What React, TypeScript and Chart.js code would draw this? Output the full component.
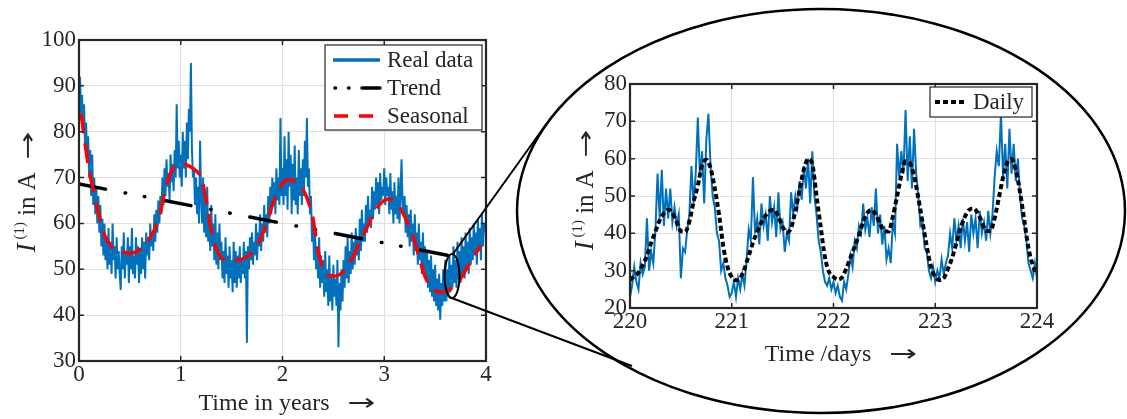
import React, { useEffect, useRef } from "react";
import { Chart, registerables } from "chart.js";
Chart.register(...registerables);

const SERIF = '"Liberation Serif", "Times New Roman", serif';
const ARROWFONT = '"DejaVu Sans", sans-serif';
const INK = "#262626";
const GRID = "#e0e0e0";
const BLUE = "#0072BD";
const RED = "#FF0000";

// ---------- left chart: 4 years ----------
const yearTicks = [0, 1, 2, 3, 4];
const leftCurrentTicks = [30, 40, 50, 60, 70, 80, 90, 100];
const realStepYears = 0.01;
const realCurrent = [
  86, 92, 84, 88, 80, 86, 76, 82, 74, 79, 70, 76, 66, 75, 64, 70, 62, 68, 60, 66,
  58, 64, 55, 61, 53, 60, 52, 57, 50, 59, 51, 56, 49, 60, 52, 55, 48, 57, 50, 54,
  49, 45.5, 55, 50, 58, 48, 54, 51, 57, 47, 55, 50, 59, 49, 53, 48, 57, 51, 55, 47,
  54, 49, 57, 50, 56, 48, 58, 53, 57, 52, 60, 55, 58, 54, 62, 56, 63, 58, 65, 60,
  66, 62, 70, 64, 72, 66, 74, 68, 71, 65, 75, 69, 73, 67, 76, 70, 86, 72, 78, 70,
  75, 68, 80, 72, 78, 70, 82, 74, 85, 80, 95, 76, 70, 72, 64, 70, 62, 68, 60, 78,
  66, 60, 70, 58, 65, 57, 68, 56, 62, 54, 64, 55, 60, 52, 62, 51, 58, 50, 60, 52,
  56, 48, 54, 47, 57, 49, 53, 46, 55, 48, 52, 45, 56, 47, 54, 46, 53, 48, 55, 47,
  52, 49, 56, 48, 54, 34, 55, 50, 57, 52, 58, 51, 56, 53, 60, 52, 58, 55, 62, 54,
  60, 56, 64, 58, 62, 57, 66, 60, 68, 62, 70, 64, 69, 62, 72, 65, 70, 64, 83, 66,
  72, 64, 79, 66, 74, 63, 80, 68, 75, 62, 73, 65, 77, 64, 70, 62, 76, 66, 72, 64,
  74, 66, 78, 70, 83, 68, 72, 62, 66, 56, 60, 52, 58, 50, 55, 48, 57, 46, 53, 47,
  52, 44, 54, 45, 50, 42, 53, 43, 49, 41, 51, 44, 48, 42, 52, 33, 47, 41, 50, 43,
  52, 46, 55, 48, 57, 47, 54, 49, 58, 50, 56, 51, 59, 53, 57, 52, 61, 54, 63, 56,
  60, 56, 64, 58, 66, 60, 63, 59, 68, 61, 67, 63, 70, 64, 69, 62, 71, 65, 68, 66,
  72, 64, 70, 66, 68, 62, 71, 63, 67, 60, 69, 62, 66, 61, 70, 60, 67, 74, 64, 62,
  66, 58, 64, 57, 62, 55, 63, 56, 60, 53, 62, 54, 58, 51, 60, 52, 56, 49, 58, 50,
  55, 48, 54, 46, 52, 45, 53, 44, 50, 43, 51, 42, 48, 41, 49, 39, 47, 42, 50, 43,
  52, 43, 50, 44, 53, 45, 51, 46, 55, 47, 52, 46, 56, 48, 54, 47, 57, 49, 55, 48,
  58, 50, 56, 49, 59, 51, 57, 52, 60, 53, 58, 51, 61, 54, 59, 52, 62, 55, 60, 58,
];
const trendYears = [0, 3.66];
const trendCurrent = [68.6, 52.9];
const seasonalYears = [
  0.02, 0.05, 0.1, 0.15, 0.2, 0.25, 0.3, 0.35, 0.4, 0.45, 0.5, 0.55, 0.6, 0.65, 0.7, 0.75, 0.8, 0.85, 0.9, 0.95,
  1.0, 1.05, 1.1, 1.15, 1.2, 1.25, 1.3, 1.35, 1.4, 1.45, 1.5, 1.55, 1.6, 1.65, 1.7, 1.75, 1.8, 1.85, 1.9, 1.95,
  2.0, 2.05, 2.1, 2.15, 2.2, 2.25, 2.3, 2.35, 2.4, 2.45, 2.5, 2.55, 2.6, 2.65, 2.7, 2.75, 2.8, 2.85, 2.9, 2.95,
  3.0, 3.05, 3.1, 3.15, 3.2, 3.25, 3.3, 3.35, 3.4, 3.45, 3.5, 3.55, 3.6, 3.65, 3.7, 3.75, 3.8, 3.85, 3.9, 3.95,
];
const seasonalCurrent = [
  84, 79, 71.5, 66.5, 61.5, 57.5, 55.5, 54.5, 54, 53.7, 53.5, 53.7, 54.3, 55.2, 57, 59, 62.5, 67.5, 71, 72.7,
  73, 72.8, 72.3, 71.5, 70, 65, 58.5, 54.5, 52.5, 52, 51.9, 52, 52.2, 52.7, 53.7, 55.2, 57.5, 60.5, 64, 66.8,
  68.7, 69.5, 69.4, 68.8, 67.5, 65, 61, 54, 50, 48.7, 48.5, 48.7, 49.5, 51, 53, 55.5, 57.8, 60, 62.5, 64,
  65, 65.3, 64.8, 63.5, 61.5, 59, 56, 52, 48.5, 46.3, 45.3, 45, 45.2, 45.7, 46.8, 48, 49.8, 51.6, 53.5, 55.2,
];

// ---------- right chart: days 220-224 ----------
const dayTicks = [220, 221, 222, 223, 224];
const rightCurrentTicks = [20, 30, 40, 50, 60, 70, 80];
const zoomStartDay = 220;
const zoomStepDay = 1 / 48;
const zoomCurrent = [
  23, 26, 31, 27, 25, 32, 29, 31, 44, 30, 35, 32, 41, 56, 44, 57, 42, 52, 44, 52, 43, 47, 42, 45,
  28, 36, 35, 41, 45, 58, 48, 56, 71, 55, 62, 48, 65, 72, 58, 50, 47, 40, 38, 30, 32, 28, 26, 23,
  24, 27, 23, 28, 25, 29, 26, 33, 41, 38, 55, 40, 44, 37, 48, 42, 45, 38, 50, 43, 47, 39, 51, 41,
  43, 35, 40, 38, 51, 45, 50, 47, 54, 49, 58, 52, 60, 48, 62, 50, 45, 38, 35, 30, 27, 26, 28, 25,
  27, 24, 26, 23, 22, 27, 25, 29, 34, 31, 38, 36, 42, 40, 48, 41, 44, 39, 47, 42, 52, 40, 45, 37,
  42, 33, 36, 32, 43, 40, 64, 55, 62, 56, 73, 54, 66, 52, 68, 56, 50, 42, 43, 36, 35, 30, 28, 31,
  27, 30, 28, 33, 29, 32, 34, 40, 36, 44, 38, 42, 36, 44, 38, 43, 35, 45, 40, 44, 36, 46, 40, 43,
  38, 46, 40, 45, 55, 62, 58, 72, 55, 64, 52, 68, 56, 64, 54, 60, 50, 44, 42, 38, 32, 30, 28, 32,
  28,
];
const dailyStepDay = 1 / 24;
const dailyCurrent = [
  27.5, 28.5, 29.5, 31.5, 34, 37.5, 40.5, 43.5, 45.4, 46.3, 45.5, 43, 40.6, 40.4, 43.2, 48.5, 52.8, 58.2, 59.7, 57.5, 52, 45, 36.5, 31,
  28.3, 27.4, 28, 30.5, 34, 37.5, 40.5, 43, 44.8, 46, 46.3, 44.5, 41.8, 40.2, 41.5, 46, 51.6, 57, 59.9, 58.5, 50, 41.5, 33.5, 29.5,
  28.3, 27.6, 28.2, 30.5, 33.5, 36.5, 39.5, 43, 45.5, 46.3, 45, 42.5, 40.6, 40.5, 44.5, 50, 55.5, 59.3, 58.8, 55.5, 49.5, 43, 36.5, 31,
  28.4, 27.5, 28, 30.5, 33.5, 37.5, 41.5, 44.5, 46.3, 46.7, 45.5, 43, 40.6, 40.7, 44, 49.5, 55, 59, 59.9, 57, 51, 43.5, 36, 31.5,
  29,
];

type Seg = { text: string; font: string; dy?: number; sx?: number };

function drawRich(ctx: CanvasRenderingContext2D, segs: Seg[], cx: number, cy: number, rotated: boolean) {
  ctx.save();
  ctx.translate(cx, cy);
  if (rotated) ctx.rotate(-Math.PI / 2);
  ctx.textAlign = "left";
  ctx.textBaseline = "alphabetic";
  ctx.fillStyle = INK;
  let total = 0;
  const widths = segs.map((s) => {
    ctx.font = s.font;
    const w = ctx.measureText(s.text).width * (s.sx || 1);
    total += w;
    return w;
  });
  let x = -total / 2;
  segs.forEach((s, i) => {
    ctx.font = s.font;
    ctx.save();
    ctx.translate(x, s.dy || 0);
    ctx.scale(s.sx || 1, 1);
    ctx.fillText(s.text, 0, 0);
    ctx.restore();
    x += widths[i];
  });
  ctx.restore();
}

function drawFrame(chart: any) {
  const { ctx, chartArea: a, scales } = chart;
  ctx.save();
  ctx.strokeStyle = INK;
  ctx.lineWidth = 1.5;
  ctx.beginPath();
  const tl = 5;
  scales.x.ticks.forEach((t: any) => {
    const x = scales.x.getPixelForValue(t.value);
    ctx.moveTo(x, a.bottom);
    ctx.lineTo(x, a.bottom - tl);
    ctx.moveTo(x, a.top);
    ctx.lineTo(x, a.top + tl);
  });
  scales.y.ticks.forEach((t: any) => {
    const y = scales.y.getPixelForValue(t.value);
    ctx.moveTo(a.left, y);
    ctx.lineTo(a.left + tl, y);
    ctx.moveTo(a.right, y);
    ctx.lineTo(a.right - tl, y);
  });
  ctx.stroke();
  ctx.lineWidth = 2.2;
  ctx.strokeRect(a.left, a.top, a.right - a.left, a.bottom - a.top);
  ctx.restore();
}

const tickFont = { family: SERIF, size: 23 };

function baseScales(xTicks: number[], yTicks: number[], xH: number, yW: number) {
  return {
    x: {
      type: "linear",
      min: xTicks[0],
      max: xTicks[xTicks.length - 1],
      afterBuildTicks: (s: any) => {
        s.ticks = xTicks.map((v) => ({ value: v }));
      },
      afterFit: (s: any) => {
        s.height = xH;
      },
      ticks: { font: tickFont, color: INK, padding: 0, maxRotation: 0, autoSkip: false, callback: (v: any) => String(v) },
      grid: { color: GRID, lineWidth: 1, drawTicks: false },
      border: { display: false },
    },
    y: {
      type: "linear",
      min: yTicks[0],
      max: yTicks[yTicks.length - 1],
      afterBuildTicks: (s: any) => {
        s.ticks = yTicks.map((v) => ({ value: v }));
      },
      afterFit: (s: any) => {
        s.width = yW;
      },
      ticks: { font: tickFont, color: INK, padding: 3, autoSkip: false, callback: (v: any) => String(v) },
      grid: { color: GRID, lineWidth: 1, drawTicks: false },
      border: { display: false },
    },
  };
}

const TREND_DASH = [27, 20, 0.5, 19, 0.5, 20];
const SEASON_DASH = [20, 10];
const DAILY_DASH = [5, 3];

function yTitle(): Seg[] {
  return [
    { text: "I", font: `italic 27px ${SERIF}` },
    { text: " (1)", font: `15px ${SERIF}`, dy: -11 },
    { text: " in A  ", font: `25px ${SERIF}` },
    { text: "\u2192", font: `23px ${ARROWFONT}`, sx: 1.45 },
  ];
}

function LeftChart() {
  const ref = useRef<HTMLCanvasElement>(null);
  useEffect(() => {
    const decor = {
      id: "leftDecor",
      afterDraw(chart: any) {
        const ctx = chart.ctx as CanvasRenderingContext2D;
        drawFrame(chart);
        // legend
        ctx.save();
        ctx.fillStyle = "#fff";
        ctx.fillRect(325, 45, 157, 85);
        ctx.strokeStyle = INK;
        ctx.lineWidth = 1.2;
        ctx.strokeRect(325, 45, 157, 85);
        ctx.lineWidth = 3.5;
        ctx.strokeStyle = BLUE;
        ctx.beginPath();
        ctx.moveTo(333, 60);
        ctx.lineTo(380, 60);
        ctx.stroke();
        ctx.strokeStyle = "#000";
        ctx.lineCap = "round";
        ctx.setLineDash([0.5, 13, 0.5, 13, 20, 100]);
        ctx.beginPath();
        ctx.moveTo(335, 88);
        ctx.lineTo(380, 88);
        ctx.stroke();
        ctx.lineCap = "butt";
        ctx.strokeStyle = RED;
        ctx.setLineDash([14, 11]);
        ctx.beginPath();
        ctx.moveTo(334, 116);
        ctx.lineTo(381, 116);
        ctx.stroke();
        ctx.setLineDash([]);
        ctx.fillStyle = INK;
        ctx.font = `23px ${SERIF}`;
        ctx.textBaseline = "middle";
        ctx.fillText("Real data", 387, 61);
        ctx.fillText("Trend", 387, 89);
        ctx.fillText("Seasonal", 387, 117);
        ctx.restore();
        // titles
        drawRich(
          ctx,
          [
            { text: "Time in years   ", font: `24px ${SERIF}` },
            { text: "\u2192", font: `23px ${ARROWFONT}`, sx: 1.45 },
          ],
          287,
          410,
          false
        );
        drawRich(ctx, yTitle(), 35, 192, true);
      },
    };
    const chart = new Chart(ref.current!, {
      type: "line",
      data: {
        datasets: [
          {
            label: "Real data",
            data: realCurrent.map((v, i) => ({ x: i * realStepYears, y: v })),
            borderColor: BLUE,
            borderWidth: 2,
            pointRadius: 0,
            tension: 0,
            order: 3,
          },
          {
            label: "Trend",
            data: trendYears.map((x, i) => ({ x, y: trendCurrent[i] })),
            borderColor: "#000",
            borderWidth: 3.5,
            borderDash: TREND_DASH,
            borderCapStyle: "round",
            pointRadius: 0,
            order: 2,
          },
          {
            label: "Seasonal",
            data: seasonalYears.map((x, i) => ({ x, y: seasonalCurrent[i] })),
            borderColor: RED,
            borderWidth: 3.5,
            borderDash: SEASON_DASH,
            pointRadius: 0,
            cubicInterpolationMode: "monotone",
            order: 1,
          },
        ],
      },
      options: {
        animation: false,
        responsive: false,
        maintainAspectRatio: false,
        layout: { padding: { left: 0, top: 40, right: 14, bottom: 0 } },
        plugins: { legend: { display: false }, tooltip: { enabled: false } },
        scales: baseScales(yearTicks, leftCurrentTicks, 58, 79) as any,
      },
      plugins: [decor],
    } as any);
    return () => chart.destroy();
  }, []);
  return <canvas ref={ref} width={500} height={419} style={{ position: "absolute", left: 0, top: 0, width: 500, height: 419 }} />;
}

function RightChart() {
  const ref = useRef<HTMLCanvasElement>(null);
  useEffect(() => {
    const OX = 540;
    const decor = {
      id: "rightDecor",
      afterDraw(chart: any) {
        const ctx = chart.ctx as CanvasRenderingContext2D;
        drawFrame(chart);
        ctx.save();
        ctx.fillStyle = "#fff";
        ctx.fillRect(930 - OX, 87, 102, 30);
        ctx.strokeStyle = INK;
        ctx.lineWidth = 1.2;
        ctx.strokeRect(930 - OX, 87, 102, 30);
        ctx.strokeStyle = "#000";
        ctx.lineWidth = 4;
        ctx.setLineDash(DAILY_DASH);
        ctx.beginPath();
        ctx.moveTo(935 - OX, 102);
        ctx.lineTo(967 - OX, 102);
        ctx.stroke();
        ctx.setLineDash([]);
        ctx.fillStyle = INK;
        ctx.font = `23px ${SERIF}`;
        ctx.textBaseline = "middle";
        ctx.fillText("Daily", 973 - OX, 103);
        ctx.restore();
        drawRich(
          ctx,
          [
            { text: "Time /days   ", font: `24px ${SERIF}` },
            { text: "\u2192", font: `23px ${ARROWFONT}`, sx: 1.45 },
          ],
          841 - OX,
          361,
          false
        );
        drawRich(ctx, yTitle(), 593 - OX, 190, true);
      },
    };
    const chart = new Chart(ref.current!, {
      type: "line",
      data: {
        datasets: [
          {
            label: "Real data",
            data: zoomCurrent.map((v, i) => ({ x: zoomStartDay + i * zoomStepDay, y: v })),
            borderColor: BLUE,
            borderWidth: 2,
            pointRadius: 0,
            tension: 0,
            order: 2,
          },
          {
            label: "Daily",
            data: dailyCurrent.map((v, i) => ({ x: zoomStartDay + i * dailyStepDay, y: v })),
            borderColor: "#000",
            borderWidth: 4,
            borderDash: DAILY_DASH,
            pointRadius: 0,
            cubicInterpolationMode: "monotone",
            order: 1,
          },
        ],
      },
      options: {
        animation: false,
        responsive: false,
        maintainAspectRatio: false,
        layout: { padding: { left: 0, top: 84, right: 43, bottom: 0 } },
        plugins: { legend: { display: false }, tooltip: { enabled: false } },
        scales: baseScales(dayTicks, rightCurrentTicks, 111, 90) as any,
      },
      plugins: [decor],
    } as any);
    return () => chart.destroy();
  }, []);
  return <canvas ref={ref} width={540} height={419} style={{ position: "absolute", left: 540, top: 0, width: 540, height: 419 }} />;
}

export default function App() {
  return (
    <div style={{ position: "fixed", left: 0, top: 0, width: 1127, height: 419, background: "#fff", overflow: "hidden" }}>
      <LeftChart />
      <RightChart />
      <svg width={1127} height={419} style={{ position: "absolute", left: 0, top: 0, pointerEvents: "none" }}>
        <ellipse cx={821} cy={211} rx={304} ry={202} fill="none" stroke="#000" strokeWidth={2.5} />
        <ellipse cx={452} cy={276} rx={7.5} ry={22} fill="none" stroke="#000" strokeWidth={2} />
        <line x1={453} y1={254} x2={547} y2={123} stroke="#000" strokeWidth={2} />
        <line x1={449} y1={297} x2={632} y2={366} stroke="#000" strokeWidth={2} />
      </svg>
    </div>
  );
}
